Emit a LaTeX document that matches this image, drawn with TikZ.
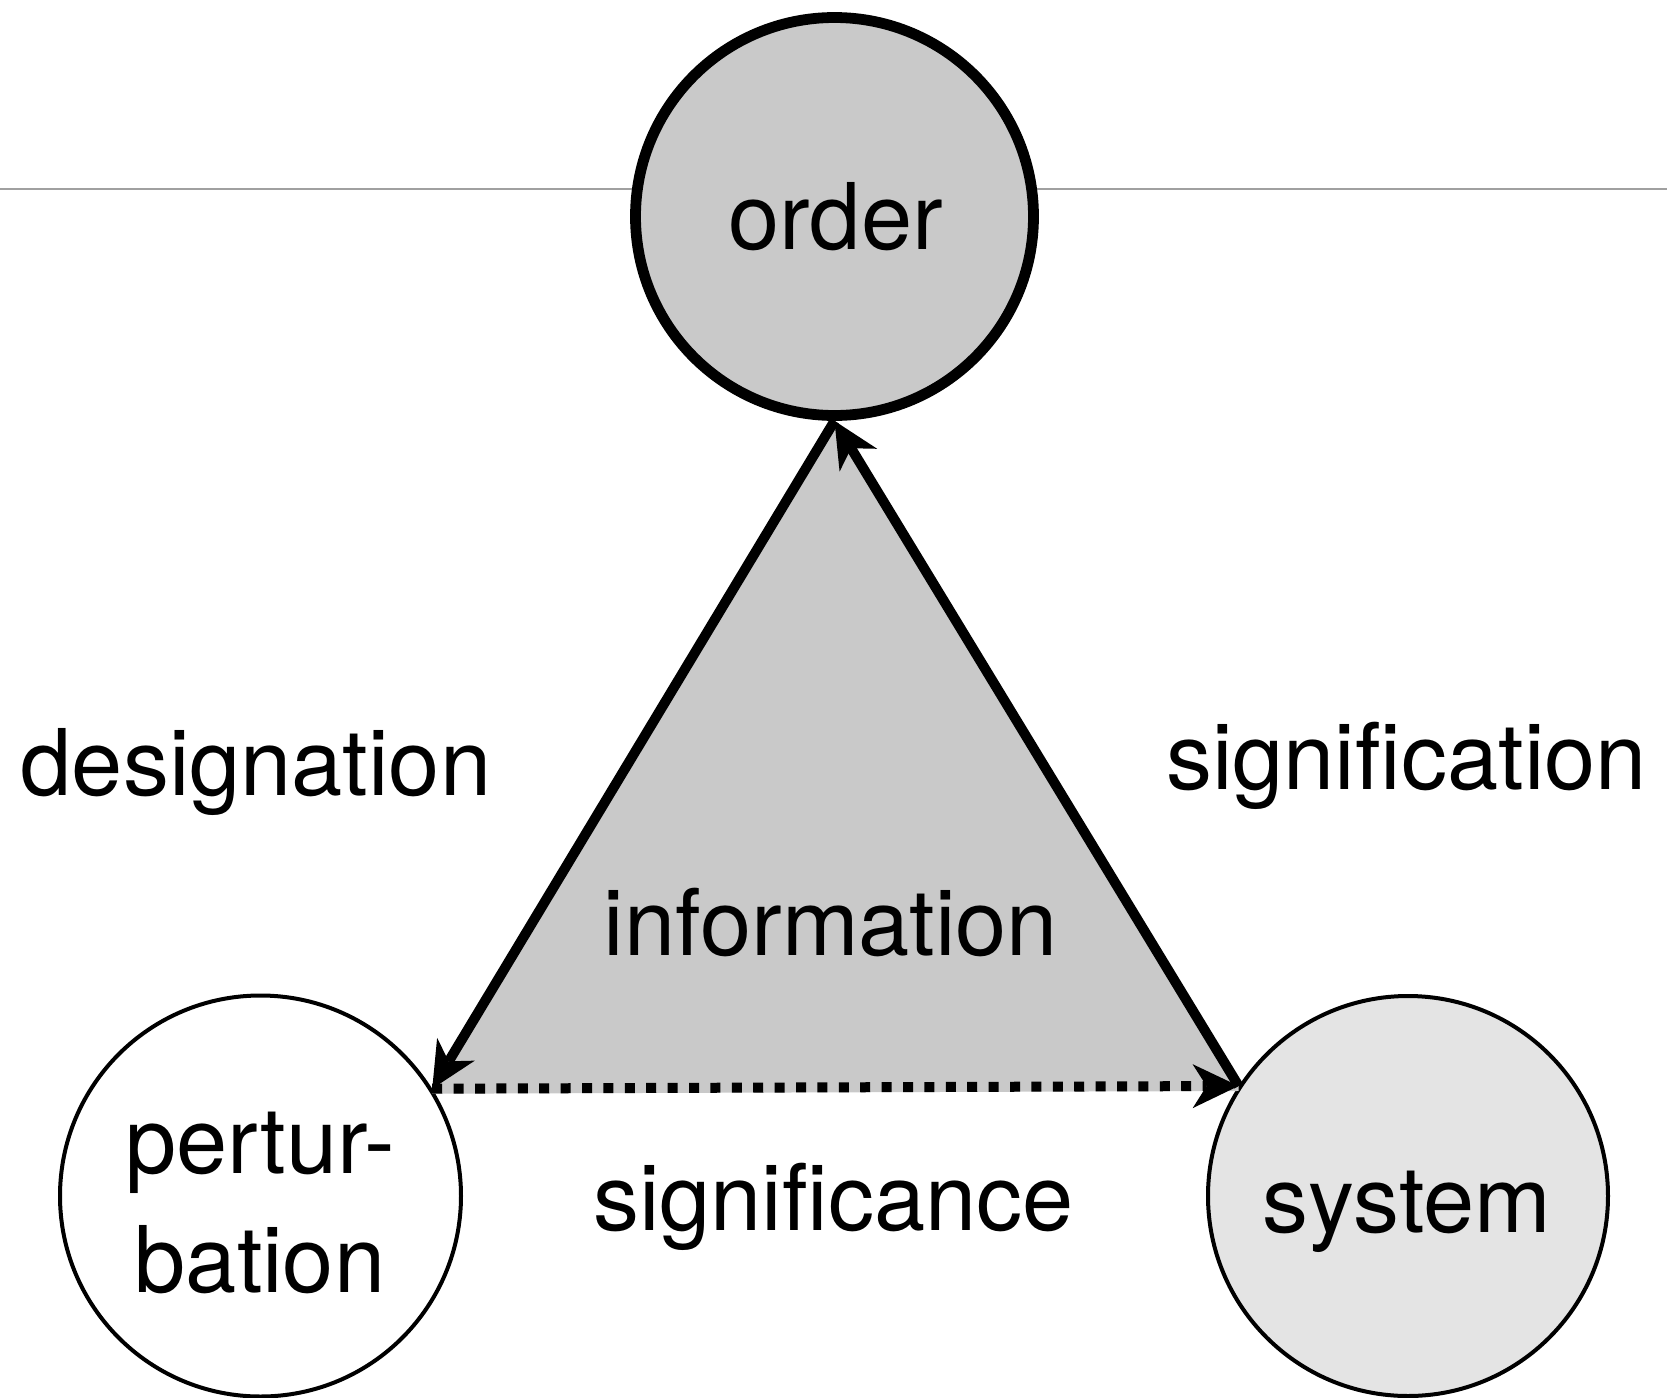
\documentclass[tikz,border=0pt]{standalone}
\usepackage{fontspec}
\setmainfont[Ligatures=NoCommon]{TeX Gyre Heros}
\usetikzlibrary{arrows.meta}
\definecolor{ordergray}{HTML}{C9C9C9}
\definecolor{sysgray}{HTML}{E4E4E4}
\definecolor{rulegray}{HTML}{A0A0A0}

\begin{document}
\begin{tikzpicture}[x=0.5pt,y=-0.5pt,
  lbl/.style={anchor=base, inner sep=0pt, font=\fontsize{46}{55}\selectfont},
  ring/.style={circle, draw=black, inner sep=0pt},
  tiphead/.style={-{Stealth[length=23pt,width=22pt,inset=7pt,line width'=0pt]}},
  side/.style={line width=5pt, tiphead},
]
\useasboundingbox (0,0) rectangle (1667,1398);

% horizontal rule behind the top circle
\coordinate (rl) at (0,189);
\coordinate (rr) at (1667,189);
\draw[rulegray, line width=1pt] (rl) -- (rr);

% the three circles
\node[ring, line width=5.4pt, fill=ordergray, minimum size=199pt] (order) at (834.5,216.5) {};
\node[ring, line width=2pt, fill=white, minimum size=200.5pt] (pert) at (260.5,1196) {};
\node[ring, line width=2pt, fill=sysgray, minimum size=200pt] (sys) at (1408,1196) {};

% triangle corners
\coordinate (apex) at (order.south);
\coordinate (bl) at (pert.32.5);
\coordinate (br) at (sys.147.5);

\fill[ordergray] (apex) -- (bl) -- ([yshift=-2.5pt]bl) -- ([yshift=-2.5pt]br) -- (br) -- cycle;
\draw[side] (apex) -- (bl);
\draw[side] (br) -- (apex);
\draw[line width=5pt, dash pattern=on 5pt off 5.7pt, tiphead] (bl) -- (br);

% labels
\node[lbl] (torder) at (835.5,249) {order};
\node[lbl] (tpert1) at (260,1173) {pertur-};
\node[lbl] (tpert2) at (260,1292) {bation};
\node[lbl] (tsys) at (1407,1232) {system};
\node[lbl] (tdes) at (256,795) {designation};
\node[lbl] (tsig) at (1406.5,789) {signification};
\node[lbl] (tinfo) at (831,955) {information};
\node[lbl] (tsigc) at (833.5,1230) {significance};
\end{tikzpicture}
\end{document}
